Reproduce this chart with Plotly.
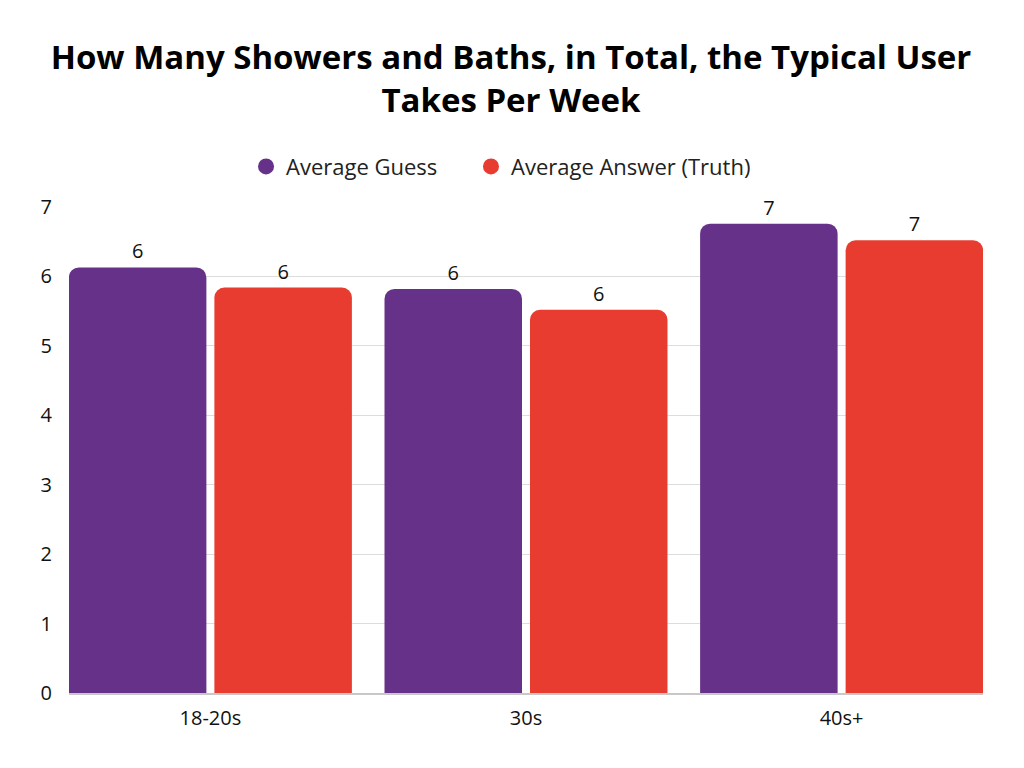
import plotly.graph_objects as go

categories = ["18-20s", "30s", "40s+"]
avg_guess = [6.13, 5.82, 6.76]
avg_truth = [5.84, 5.52, 6.52]
series_names = ["Average Guess", "Average Answer (Truth)"]
colors = ["#663289", "#E83C30"]

FONT = "Open Sans"

fig = go.Figure()
for name, vals, col in zip(series_names, [avg_guess, avg_truth], colors):
    fig.add_trace(go.Bar(
        x=categories, y=vals, name=name, marker=dict(color=col, line=dict(width=0)),
        texttemplate="%{y:.0f}", textposition="outside",
        textfont=dict(size=20, color="#111111", family=FONT),
        cliponaxis=False, showlegend=False,
    ))
for name, col, lg in zip(series_names, colors, ["legend", "legend2"]):
    fig.add_trace(go.Scatter(
        x=[None], y=[None], mode="markers", name=name, legend=lg,
        marker=dict(symbol="circle", size=22, color=col),
    ))

legend_common = dict(
    orientation="h", xanchor="left", y=1.083, yanchor="middle",
    font=dict(size=22, family=FONT, color="#222222"),
    itemsizing="trace", itemwidth=30, bgcolor="rgba(0,0,0,0)",
)

fig.update_layout(
    width=1024, height=768,
    paper_bgcolor="white", plot_bgcolor="white",
    margin=dict(l=61, r=49, t=199, b=83, autoexpand=False),
    barmode="group", bargap=0.078, bargroupgap=0.055,
    barcornerradius=10,
    font=dict(family=FONT, size=18, color="#111111"),
    title=dict(
        text="<b>How Many Showers and Baths, in Total, the Typical User<br>Takes Per Week</b>",
        x=0.4912, xanchor="center", y=0.921, yanchor="top",
        font=dict(size=33, family=FONT, color="#000000"),
    ),
    legend=dict(x=0.1937, **legend_common),
    legend2=dict(x=0.4398, **legend_common),
    xaxis=dict(
        range=[-0.448, 2.448],
        showgrid=False, showline=True, linecolor="#c8c8c8", linewidth=1.5,
        ticks="outside", ticklen=6, tickcolor="white",
        tickfont=dict(size=20, color="#111111"),
    ),
    yaxis=dict(
        range=[0, 7], dtick=1, showgrid=True, gridcolor="#dddddd", gridwidth=1,
        zeroline=False, showline=False, ticks="outside", ticklen=12, tickcolor="white",
        tickfont=dict(size=20, color="#111111"),
    ),
)

fig.write_html("out.html")
